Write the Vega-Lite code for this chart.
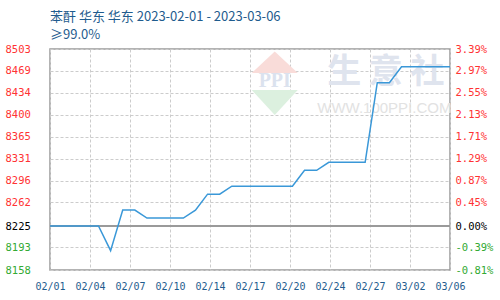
{
  "$schema": "https://vega.github.io/schema/vega-lite/v6.json",
  "width": 400,
  "height": 221,
  "autosize": {"type": "none"},
  "padding": {"left": 50, "top": 49, "right": 50, "bottom": 30},
  "background": "#ffffff",
  "config": {
    "view": {"stroke": "#9a9a9a", "strokeWidth": 1.5},
    "font": "Noto Sans CJK SC"
  },
  "title": {
    "text": "苯酐 华东 华东 2023-02-01 - 2023-03-06",
    "subtitle": "≥99.0%",
    "anchor": "start",
    "frame": "group",
    "font": "Noto Sans CJK SC",
    "fontSize": 13,
    "fontWeight": "normal",
    "color": "#1f5c8e",
    "subtitleFont": "Noto Sans CJK SC",
    "subtitleFontSize": 13,
    "subtitleColor": "#1f5c8e",
    "subtitlePadding": 5,
    "offset": 2
  },
  "datasets": {
    "price": [
      {"date": "2023-02-01", "price": 8225},
      {"date": "2023-02-02", "price": 8225},
      {"date": "2023-02-03", "price": 8225},
      {"date": "2023-02-04", "price": 8225},
      {"date": "2023-02-05", "price": 8225},
      {"date": "2023-02-06", "price": 8187.5},
      {"date": "2023-02-07", "price": 8250},
      {"date": "2023-02-08", "price": 8250},
      {"date": "2023-02-09", "price": 8237.5},
      {"date": "2023-02-10", "price": 8237.5},
      {"date": "2023-02-11", "price": 8237.5},
      {"date": "2023-02-12", "price": 8237.5},
      {"date": "2023-02-13", "price": 8250},
      {"date": "2023-02-14", "price": 8275},
      {"date": "2023-02-15", "price": 8275},
      {"date": "2023-02-16", "price": 8287.5},
      {"date": "2023-02-17", "price": 8287.5},
      {"date": "2023-02-18", "price": 8287.5},
      {"date": "2023-02-19", "price": 8287.5},
      {"date": "2023-02-20", "price": 8287.5},
      {"date": "2023-02-21", "price": 8287.5},
      {"date": "2023-02-22", "price": 8312.5},
      {"date": "2023-02-23", "price": 8312.5},
      {"date": "2023-02-24", "price": 8325},
      {"date": "2023-02-25", "price": 8325},
      {"date": "2023-02-26", "price": 8325},
      {"date": "2023-02-27", "price": 8325},
      {"date": "2023-02-28", "price": 8450},
      {"date": "2023-03-01", "price": 8450},
      {"date": "2023-03-02", "price": 8475},
      {"date": "2023-03-03", "price": 8475},
      {"date": "2023-03-04", "price": 8475},
      {"date": "2023-03-05", "price": 8475},
      {"date": "2023-03-06", "price": 8475}
    ],
    "brand": [
      {"name": "生 意 社", "site": "WWW.100PPI.COM", "logo": "PPI"}
    ]
  },
  "data": {"name": "price"},
  "layer": [
    {
      "data": {"name": "brand"},
      "mark": {"type": "point", "filled": true, "strokeWidth": 0, "size": 2116, "opacity": 1, "color": "#f9dcd9",
               "shape": "M-1,-0.37L1,-0.37L0,-1.3Z"},
      "encoding": {
        "x": {"datum": {"year": 2023, "month": 2, "date": 19, "hours": 13, "utc": true}, "type": "temporal", "axis": null},
        "y": {"datum": 8452, "type": "quantitative", "axis": null}
      }
    },
    {
      "data": {"name": "brand"},
      "mark": {"type": "point", "filled": true, "strokeWidth": 0, "size": 2116, "opacity": 1, "color": "#dcf0df",
               "shape": "M-1,0.37L1,0.37L0,1.46Z"},
      "encoding": {
        "x": {"datum": {"year": 2023, "month": 2, "date": 19, "hours": 13, "utc": true}, "type": "temporal", "axis": null},
        "y": {"datum": 8452, "type": "quantitative", "axis": null}
      }
    },
    {
      "data": {"name": "brand"},
      "mark": {"type": "text", "font": "Liberation Serif", "fontSize": 20, "fontWeight": "bold", "color": "#dbe2ee", "baseline": "middle", "align": "center"},
      "encoding": {
        "x": {"datum": {"year": 2023, "month": 2, "date": 19, "hours": 13, "utc": true}, "type": "temporal", "axis": null},
        "y": {"datum": 8452, "type": "quantitative", "axis": null},
        "text": {"field": "logo"}
      }
    },
    {
      "data": {"name": "brand"},
      "mark": {"type": "text", "font": "Noto Sans CJK SC", "fontSize": 34, "fontWeight": "bold", "color": "#dfe4ee", "baseline": "middle", "align": "center"},
      "encoding": {
        "x": {"datum": {"year": 2023, "month": 2, "date": 28, "hours": 17, "utc": true}, "type": "temporal", "axis": null},
        "y": {"datum": 8466, "type": "quantitative", "axis": null},
        "text": {"field": "name"}
      }
    },
    {
      "data": {"name": "brand"},
      "mark": {"type": "text", "font": "Liberation Sans", "fontSize": 15, "color": "#e2e2e2", "baseline": "middle", "align": "center"},
      "encoding": {
        "x": {"datum": {"year": 2023, "month": 2, "date": 28, "hours": 14, "utc": true}, "type": "temporal", "axis": null},
        "y": {"datum": 8411, "type": "quantitative", "axis": null},
        "text": {"field": "site"}
      }
    },
    {
      "mark": {"type": "rule", "color": "#9a9a9a", "strokeWidth": 1.5},
      "encoding": {
        "y": {"datum": 8225, "type": "quantitative", "axis": null}
      }
    },
    {
      "mark": {"type": "line", "color": "#3a98d8", "strokeWidth": 1.5, "interpolate": "linear"},
      "encoding": {
        "x": {
          "field": "date",
          "type": "temporal",
          "scale": {
            "type": "utc",
            "domain": [
              {"year": 2023, "month": 2, "date": 1, "utc": true},
              {"year": 2023, "month": 3, "date": 6, "utc": true}
            ]
          },
          "axis": {
            "title": null,
            "values": [1675209600000, 1675494720000, 1675779840000, 1676064960000, 1676350080000, 1676635200000, 1676920320000, 1677205440000, 1677490560000, 1677775680000, 1678060800000],
            "labelExpr": "utcFormat(datum.value, '%m/%d')",
            "labelFont": "DejaVu Sans Mono",
            "labelFontSize": 10,
            "labelColor": "#1f5c8e",
            "labelPadding": 11,
            "labelFlush": false,
            "labelOverlap": false,
            "ticks": false,
            "domain": false,
            "grid": true,
            "gridColor": "#cccccc",
            "gridDash": [3, 2],
            "gridWidth": 1
          }
        },
        "y": {
          "field": "price",
          "type": "quantitative",
          "scale": {"domain": [8158, 8225, 8503], "range": [221, 177, 0], "zero": false, "nice": false},
          "axis": {
            "title": null,
            "orient": "left",
            "values": [8503, 8469, 8434, 8400, 8365, 8331, 8296, 8262, 8225, 8193, 8158],
            "format": "d",
            "labelFont": "DejaVu Sans Mono",
            "labelFontSize": 10.5,
            "labelAlign": "left",
            "labelPadding": 45,
            "labelColor": {
              "condition": [
                {"test": "datum.value > 8225", "value": "#ff3333"},
                {"test": "datum.value < 8225", "value": "#33aa33"}
              ],
              "value": "#000000"
            },
            "ticks": false,
            "domain": false,
            "grid": true,
            "gridColor": "#cccccc",
            "gridDash": [3, 2],
            "gridWidth": 1
          }
        }
      }
    },
    {
      "mark": {"type": "line", "opacity": 0},
      "encoding": {
        "x": {"field": "date", "type": "temporal", "axis": null},
        "y": {
          "field": "price",
          "type": "quantitative",
          "axis": {
            "title": null,
            "orient": "right",
            "values": [8503, 8469, 8434, 8400, 8365, 8331, 8296, 8262, 8225, 8193, 8158],
            "labelExpr": "['3.39%','2.97%','2.55%','2.13%','1.71%','1.29%','0.87%','0.45%','0.00%','-0.39%','-0.81%'][indexof([8503,8469,8434,8400,8365,8331,8296,8262,8225,8193,8158], datum.value)]",
            "labelFont": "DejaVu Sans Mono",
            "labelFontSize": 10.5,
            "labelPadding": 5,
            "labelColor": {
              "condition": [
                {"test": "datum.value > 8225", "value": "#ff3333"},
                {"test": "datum.value < 8225", "value": "#33aa33"}
              ],
              "value": "#000000"
            },
            "ticks": false,
            "domain": false,
            "grid": false
          }
        }
      }
    }
  ],
  "resolve": {"axis": {"x": "independent", "y": "independent"}}
}
